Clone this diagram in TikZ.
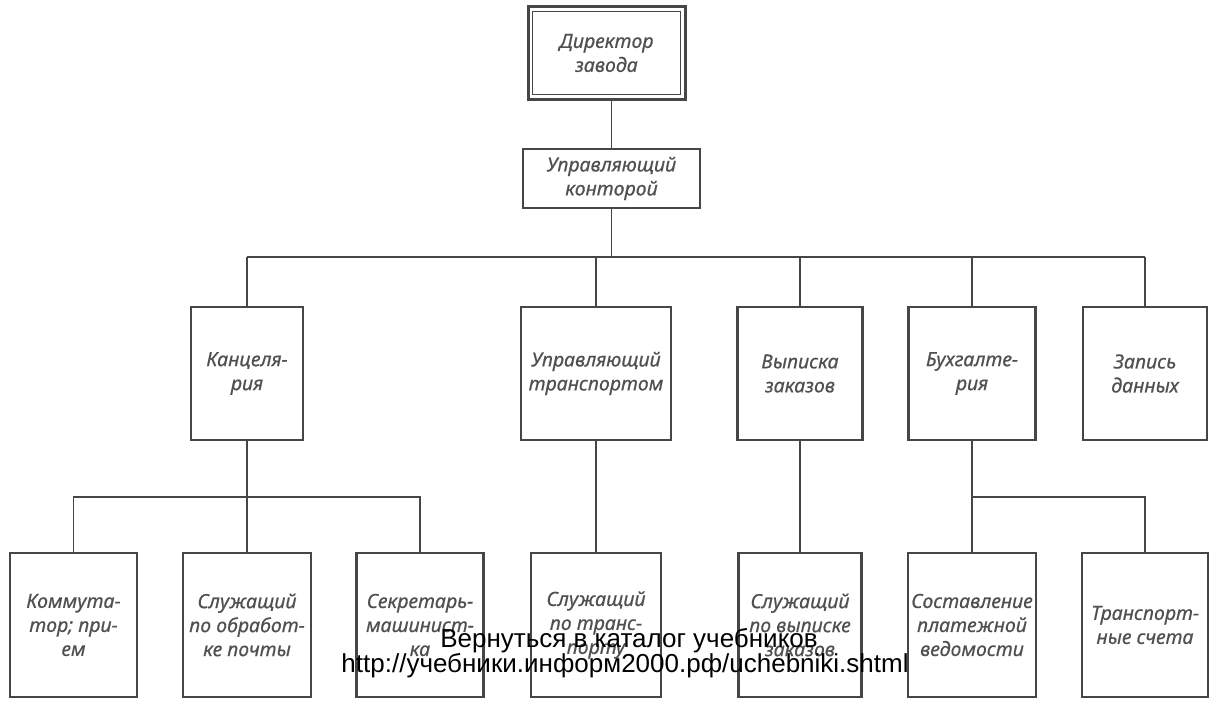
\documentclass[tikz,border=0pt]{standalone}
\usepackage{fontspec}
\setmainfont{Noto Sans}
\newfontfamily\boxfont[ItalicFeatures={FakeBold=0.6}]{Noto Sans}
\newfontfamily\markfont{Liberation Sans}
\definecolor{inkgray}{RGB}{70, 70, 70}
\definecolor{textgray}{RGB}{80, 80, 80}
\usetikzlibrary{positioning, calc}

\begin{document}
\begin{tikzpicture}[x=1pt, y=-1pt,
    unit/.style={draw=inkgray, line width=2.3pt, inner sep=0pt, align=center,
      text=textgray, font=\boxfont\itshape\fontsize{19.5}{24}\selectfont},
    dept/.style={unit, minimum height=133pt},
    staff/.style={unit, minimum height=144pt},
    link/.style={draw=inkgray, line width=1.7pt},
    watermark/.style={font=\markfont\fontsize{26}{30}\selectfont, text=black, anchor=base}]
  \useasboundingbox (0,0) rectangle (1209,701);

  % Top of the chart
  \node[unit, line width=3pt, minimum width=157pt, minimum height=92pt] (dir) at (606.5, 53) {Директор\\завода};
  \draw[inkgray, line width=1.4pt] ([shift={(6pt,6pt)}]dir.south west) rectangle ([shift={(-6pt,-6pt)}]dir.north east);
  \node[unit, minimum width=177pt, minimum height=59pt] (mgr) at (611.5, 178.5) {Управляющий\\конторой};

  % Departments
  \node[dept, minimum width=112pt] (kanc) at (247, 373.5) {Канцеля-\\рия};
  \node[dept, minimum width=150pt] (trans) at (596, 373.5) {Управляющий\\транспортом};
  \node[dept, minimum width=125pt] (vyp) at (800, 373.5) {Выписка\\заказов};
  \node[dept, minimum width=127pt] (buh) at (972, 373.5) {Бухгалте-\\рия};
  \node[dept, minimum width=124pt] (zap) at (1145, 373.5) {Запись\\данных};

  % Staff
  \node[staff, minimum width=127pt] (kom) at (73.5, 625) {Коммута-\\тор; при-\\ем};
  \node[staff, minimum width=128pt] (obr) at (247, 625) {Служащий\\по обработ-\\ке почты};
  \node[staff, minimum width=127pt] (sekr) at (420, 625) {Секретарь-\\машинист-\\ка};
  \node[staff, minimum width=130pt] (sltr) at (596, 625) {Служащий\\по транс-\\порту};
  \node[staff, minimum width=123pt] (slvyp) at (800, 625) {Служащий\\по выписке\\заказов};
  \node[staff, minimum width=128pt] (sost) at (972, 625) {Составление\\платежной\\ведомости};
  \node[staff, minimum width=126pt] (trs) at (1145, 625) {Транспорт-\\ные счета};

  % Connectors
  \coordinate (bus) at (0, 257);
  \coordinate (lbus) at (0, 497);
  \draw[link] (mgr.north) -- (mgr.north |- dir.south);
  \draw[link] (mgr.south) -- (mgr.south |- bus);
  \draw[link] (kanc.north |- bus) -- (zap.north |- bus);
  \foreach \d in {kanc, trans, vyp, buh, zap}
    \draw[link] (\d.north) -- (\d.north |- bus);
  \draw[link] (kanc.south) -- (obr.north);
  \draw[link] (kom.north) -- (kom.north |- lbus) -- (sekr.north |- lbus) -- (sekr.north);
  \draw[link] (trans.south) -- (sltr.north);
  \draw[link] (vyp.south) -- (slvyp.north);
  \draw[link] (buh.south) -- (sost.north);
  \draw[link] (buh.south |- lbus) -- (trs.north |- lbus) -- (trs.north);

  % Watermark
  \node[watermark] (wm1) at (629, 647) {Вернуться в каталог учебников};
  \node[watermark] (wm2) at (625, 672) {http://учебники.информ2000.рф/uchebniki.shtml};
\end{tikzpicture}
\end{document}
